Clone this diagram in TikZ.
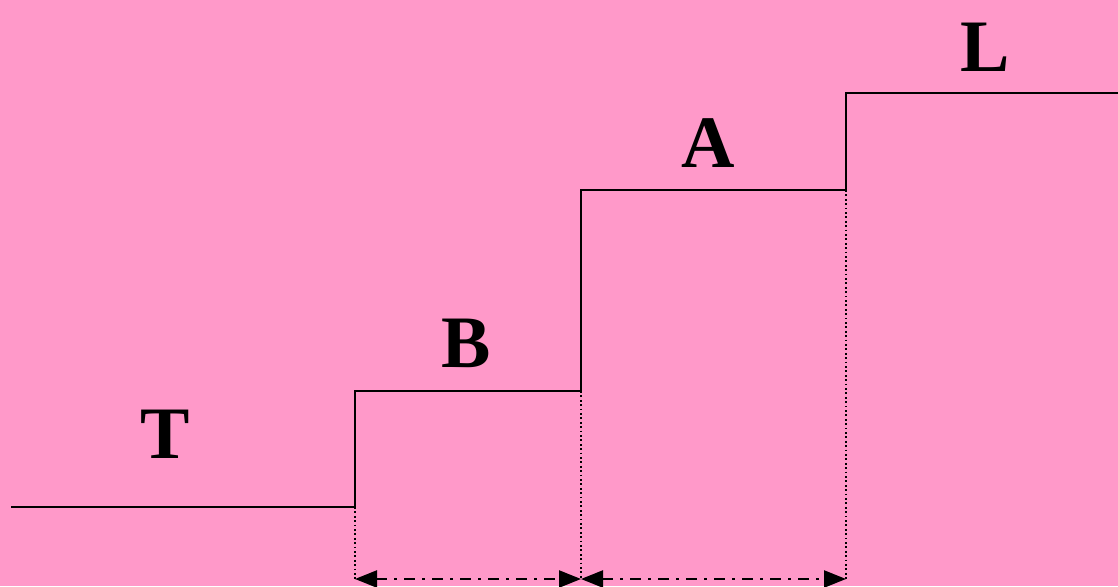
\documentclass[tikz,border=0pt]{standalone}
\usepackage{fontspec}
\setmainfont{Liberation Serif}
\usetikzlibrary{arrows.meta}
\definecolor{bgpink}{HTML}{FF99C9}
\tikzset{
  stair/.style={line width=2.4pt, black},
  guide/.style={line width=1.8pt, dash pattern=on 1.8pt off 2.6pt, black},
  span/.style={line width=2.4pt, dash pattern=on 11pt off 7pt on 3pt off 7pt, {Triangle[length=22pt,width=17pt]}-{Triangle[length=22pt,width=17pt]}},
  lab/.style={font=\fontsize{74}{74}\selectfont\bfseries, inner sep=0pt}
}
\begin{document}
\begin{tikzpicture}[x=1pt,y=-1pt]
\fill[bgpink] (0,0) rectangle (1118,586);
\useasboundingbox (0,0) rectangle (1118,586);
\coordinate (s0) at (11,507);
\coordinate (s1) at (355,507);
\coordinate (s2) at (355,391);
\coordinate (s3) at (581,391);
\coordinate (s4) at (581,190);
\coordinate (s5) at (846,190);
\coordinate (s6) at (846,93);
\coordinate (s7) at (1118,93);
\coordinate (b1) at (355,579);
\coordinate (b2) at (581,579);
\coordinate (b3) at (846,579);
\draw[guide] (s1) -- (b1);
\draw[guide] (s3) -- (b2);
\draw[guide] (s5) -- (b3);
\draw[stair] (s0) -- (s1) -- (s2) -- (s3) -- (s4) -- (s5) -- (s6) -- (s7);
\draw[span] (b1) -- (b2);
\draw[span] (b2) -- (b3);
\node[lab] (T) at (165,434) {T};
\node[lab] (B) at (466,343) {B};
\node[lab] (A) at (708,143) {A};
\node[lab] (L) at (985,47) {L};
\end{tikzpicture}
\end{document}
